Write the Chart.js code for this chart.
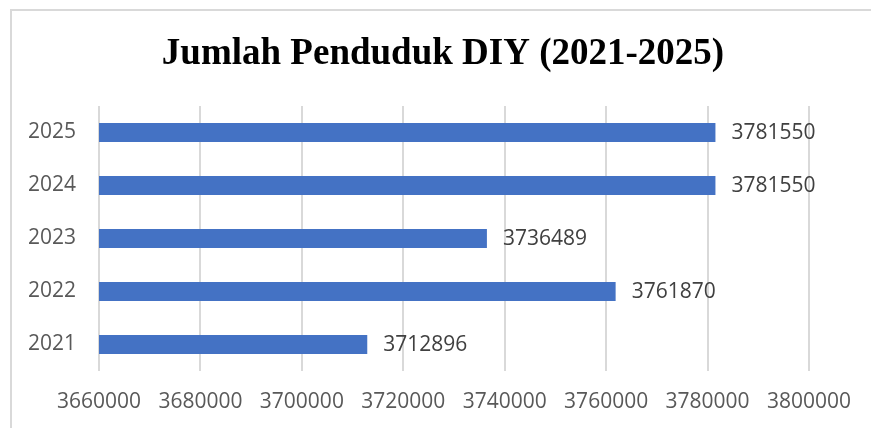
<!DOCTYPE html>
<html>
<head>
<meta charset="utf-8">
<script src="https://cdn.jsdelivr.net/npm/chart.js@4.4.1/dist/chart.umd.min.js"></script>
<style>
  html, body { margin: 0; padding: 0; background: #fff; overflow: hidden; }
  #wrap { width: 871px; height: 428px; position: relative; }
</style>
</head>
<body>
<div id="wrap"><canvas id="grafik"></canvas></div>
<script>
// data dari gambar
var judul = 'Jumlah Penduduk DIY (2021-2025)';
var tahun = ['2025', '2024', '2023', '2022', '2021'];
var penduduk = [3781550, 3781550, 3736489, 3761870, 3712896];
var sumbuMin = 3660000;
var sumbuMax = 3800000;
var sumbuStep = 20000;

// bingkai luar + judul
var bingkaiPlugin = {
  id: 'bingkai',
  beforeDraw: function (chart) {
    var ctx = chart.ctx;
    ctx.save();
    ctx.fillStyle = '#ffffff';
    ctx.fillRect(0, 0, chart.width, chart.height);
    ctx.strokeStyle = '#d9d9d9';
    ctx.lineWidth = 2;
    ctx.strokeRect(11, 10, 900, 500);
    ctx.restore();
  },
  afterDraw: function (chart) {
    var ctx = chart.ctx;
    ctx.save();
    ctx.fillStyle = '#000000';
    ctx.font = 'bold 37px "Liberation Serif", "Times New Roman", serif';
    ctx.textAlign = 'center';
    ctx.textBaseline = 'alphabetic';
    ctx.fillText(judul, 443, 64);
    ctx.restore();
  }
};

// label nilai di kanan batang
var labelPlugin = {
  id: 'labelNilai',
  afterDatasetsDraw: function (chart) {
    var ctx = chart.ctx;
    var meta = chart.getDatasetMeta(0);
    ctx.save();
    ctx.fillStyle = '#404040';
    ctx.font = '21px "Open Sans", sans-serif';
    ctx.textAlign = 'left';
    ctx.textBaseline = 'middle';
    for (var i = 0; i < meta.data.length; i++) {
      var bar = meta.data[i];
      ctx.fillText(String(penduduk[i]), bar.x + 16, bar.y + 1);
    }
    ctx.restore();
  }
};

var canvas = document.getElementById('grafik');

var chart = new Chart(canvas, {
  type: 'bar',
  data: {
    labels: tahun,
    datasets: [{
      label: 'Penduduk',
      data: penduduk,
      backgroundColor: '#4472c4',
      borderWidth: 0,
      barPercentage: 0.36,
      categoryPercentage: 1
    }]
  },
  options: {
    indexAxis: 'y',
    responsive: true,
    maintainAspectRatio: false,
    animation: false,
    layout: {
      padding: { top: 106, right: 62, bottom: 0, left: 0 }
    },
    plugins: {
      legend: { display: false },
      title: { display: false },
      tooltip: { enabled: false }
    },
    scales: {
      x: {
        min: sumbuMin,
        max: sumbuMax,
        ticks: {
          stepSize: sumbuStep,
          color: '#595959',
          padding: 18,
          maxRotation: 0,
          font: { family: '"Open Sans", sans-serif', size: 21 },
          callback: function (v) { return String(v); }
        },
        grid: { color: '#d9d9d9', lineWidth: 2, drawTicks: false },
        border: { display: false },
        afterFit: function (scale) { scale.height = 57; }
      },
      y: {
        ticks: {
          color: '#595959',
          padding: 23,
          font: { family: '"Open Sans", sans-serif', size: 21 }
        },
        grid: { display: false, drawTicks: false },
        border: { display: false },
        afterFit: function (scale) { scale.width = 99; }
      }
    }
  },
  plugins: [bingkaiPlugin, labelPlugin]
});
</script>
</body>
</html>
